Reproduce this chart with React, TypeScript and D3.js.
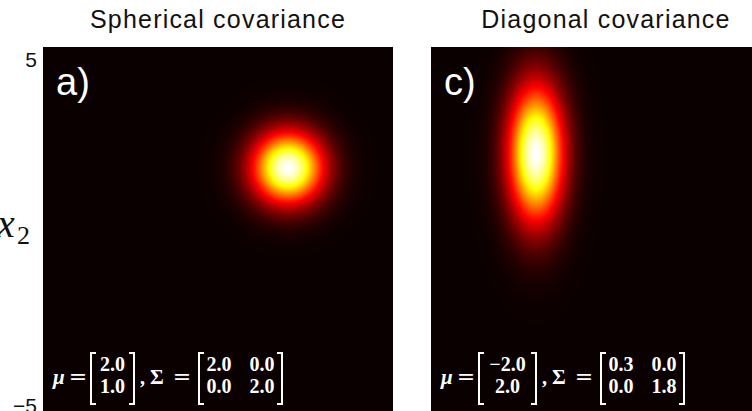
import React, { useMemo } from 'react';
import * as d3 from 'd3';

// ---- data ----
const panelTitles = ['Spherical covariance', 'Diagonal covariance'];
const panelLetters = ['a)', 'c)'];
// drawn density centres / spreads
const meanX = [2.0, -2.0];
const meanY = [1.55, 1.95];
const varX = [0.5, 0.3];
const varY = [0.5, 1.8];
// printed parameter labels
const muLabels = [['2.0', '1.0'], ['\u22122.0', '2.0']];
const sigmaLabels = [
  [['2.0', '0.0'], ['0.0', '2.0']],
  [['0.3', '0.0'], ['0.0', '1.8']],
];
const yTickValues = [5, -5];
const yTickLabels = ['5', '\u22125'];
const axisDomain = [-5, 5];

const W = 752;
const H = 411;
const PANEL_W = 350;
const PANEL_TOP = 47;
const PANEL_LEFTS = [43, 431];

function hot(t: number): [number, number, number] {
  const a = 0.365079;
  const b = 0.746032;
  const r = t < a ? 0.0416 + (1 - 0.0416) * (t / a) : 1;
  const g = t < a ? 0 : t < b ? (t - a) / (b - a) : 1;
  const bl = t < b ? 0 : (t - b) / (1 - b);
  return [r * 255, g * 255, bl * 255];
}

function makeRaster(i: number, xs: d3.ScaleLinear<number, number>, ys: d3.ScaleLinear<number, number>): string {
  const w = PANEL_W;
  const h = H - PANEL_TOP + 4;
  const canvas = document.createElement('canvas');
  canvas.width = w;
  canvas.height = h;
  const ctx = canvas.getContext('2d');
  if (!ctx) return '';
  const img = ctx.createImageData(w, h);
  const left = PANEL_LEFTS[i];
  for (let py = 0; py < h; py++) {
    const yv = ys.invert(PANEL_TOP + py + 0.5);
    for (let px = 0; px < w; px++) {
      const xv = xs.invert(left + px + 0.5);
      const dx = xv - meanX[i];
      const dy = yv - meanY[i];
      const d = Math.exp(-0.5 * (dx * dx / varX[i] + dy * dy / varY[i]));
      const [r, g, b] = hot(d);
      const k = (py * w + px) * 4;
      img.data[k] = r;
      img.data[k + 1] = g;
      img.data[k + 2] = b;
      img.data[k + 3] = 255;
    }
  }
  ctx.putImageData(img, 0, 0);
  return canvas.toDataURL();
}

function Bracket({ x, y0, y1, dir }: { x: number; y0: number; y1: number; dir: 1 | -1 }) {
  const hook = 5 * dir;
  return (
    <path
      d={`M${x + hook},${y0} L${x},${y0} L${x},${y1} L${x + hook},${y1}`}
      fill="none"
      stroke="#fff"
      strokeWidth={2}
    />
  );
}

const mathFont = "'Liberation Serif', 'DejaVu Serif', serif";
const eqFont = "'DejaVu Serif', serif";

function textW(s: string): number {
  let w = 0;
  for (const c of s) w += c === '.' ? 0.25 : c === '\u2212' ? 0.7 : 0.5;
  return w * 20;
}

function Formula({ i }: { i: number }) {
  const L = PANEL_LEFTS[i];
  const r1 = 371;
  const r2 = 393;
  const by0 = 353;
  const by1 = 404;
  const base = 384;
  const tw = Math.max(...muLabels[i].map(textW));
  const lb = L + 48;
  const vc = lb + 9 + tw / 2;
  const rb = vc + tw / 2 + 9;
  const mb = rb + 65;
  const c1 = mb + 20;
  const c2 = mb + 63;
  const mr = mb + 83;
  const tStyle = { fontFamily: mathFont, fontWeight: 700, fontSize: 20, fill: '#fff' } as const;
  const eStyle = { fontFamily: eqFont, fontSize: 22, fill: '#fff' } as const;
  return (
    <g>
      <text x={L + 10} y={base} {...tStyle} fontStyle="italic" fontSize={21}>μ</text>
      <text x={L + 35} y={base} {...eStyle} textAnchor="middle">=</text>
      <Bracket x={lb} y0={by0} y1={by1} dir={1} />
      <text x={vc} y={r1} {...tStyle} textAnchor="middle">{muLabels[i][0]}</text>
      <text x={vc} y={r2} {...tStyle} textAnchor="middle">{muLabels[i][1]}</text>
      <Bracket x={rb} y0={by0} y1={by1} dir={-1} />
      <text x={rb + 6} y={base} {...tStyle}>,</text>
      <text x={rb + 16} y={base} {...tStyle} fontSize={21}>Σ</text>
      <text x={rb + 48} y={base} {...eStyle} textAnchor="middle">=</text>
      <Bracket x={mb} y0={by0} y1={by1} dir={1} />
      <text x={c1} y={r1} {...tStyle} textAnchor="middle">{sigmaLabels[i][0][0]}</text>
      <text x={c2} y={r1} {...tStyle} textAnchor="middle">{sigmaLabels[i][0][1]}</text>
      <text x={c1} y={r2} {...tStyle} textAnchor="middle">{sigmaLabels[i][1][0]}</text>
      <text x={c2} y={r2} {...tStyle} textAnchor="middle">{sigmaLabels[i][1][1]}</text>
      <Bracket x={mr} y0={by0} y1={by1} dir={-1} />
    </g>
  );
}

export default function App() {
  const scales = useMemo(
    () =>
      PANEL_LEFTS.map((left) => ({
        x: d3.scaleLinear().domain(axisDomain).range([left, left + PANEL_W]),
        y: d3.scaleLinear().domain([axisDomain[1], axisDomain[0]]).range([PANEL_TOP, PANEL_TOP + PANEL_W]),
      })),
    []
  );
  const rasters = useMemo(() => scales.map((s, i) => makeRaster(i, s.x, s.y)), [scales]);
  const sans = "'Liberation Sans', Arial, sans-serif";
  const yLeft = scales[0].y;
  return (
    <svg
      width={W}
      height={H}
      viewBox={`0 0 ${W} ${H}`}
      style={{ position: 'absolute', left: 0, top: 0, background: '#fff', display: 'block' }}
    >
      {PANEL_LEFTS.map((left, i) => (
        <g key={i}>
          <rect x={left} y={PANEL_TOP} width={PANEL_W} height={H - PANEL_TOP + 4} fill="#0a0000" />
          <image
            href={rasters[i]}
            x={left}
            y={PANEL_TOP}
            width={PANEL_W}
            height={H - PANEL_TOP + 4}
            preserveAspectRatio="none"
          />
          <text
            x={left + PANEL_W / 2}
            y={28}
            textAnchor="middle"
            fontFamily={sans}
            fontSize={25}
            letterSpacing={1.2}
            fill="#111"
          >
            {panelTitles[i]}
          </text>
          <text x={left + 13} y={95} fontFamily={sans} fontSize={38} fill="#fff">
            {panelLetters[i]}
          </text>
          <Formula i={i} />
        </g>
      ))}
      {yTickValues.map((v, k) => (
        <text
          key={k}
          x={37}
          y={k === 0 ? yLeft(v) + 20 : yLeft(v) + 16}
          textAnchor="end"
          fontFamily={sans}
          fontSize={21}
          fill="#111"
        >
          {yTickLabels[k]}
        </text>
      ))}
      <text x={-3} y={237} fontFamily={mathFont} fontStyle="italic" fontSize={40} fill="#111">
        x
      </text>
      <text x={17} y={244} fontFamily={mathFont} fontSize={26} fill="#111">
        2
      </text>
    </svg>
  );
}
